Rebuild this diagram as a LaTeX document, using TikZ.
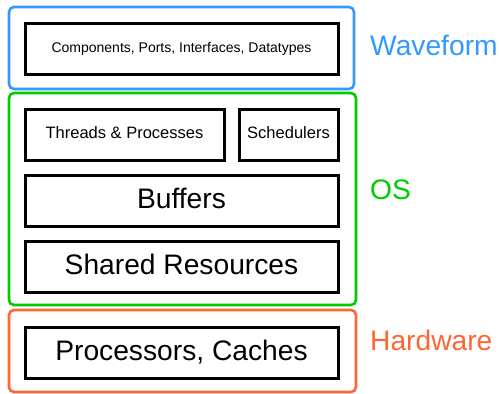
\documentclass[tikz,border=0pt]{standalone}
\usepackage{fontspec}
\setmainfont{Liberation Sans}
\definecolor{wfblue}{RGB}{51,153,255}
\definecolor{osgreen}{RGB}{0,204,0}
\definecolor{hworange}{RGB}{255,102,51}
\begin{document}
\begin{tikzpicture}[x=1pt,y=-1pt,
  layer/.style={draw, line width=2.6pt, rounded corners=5pt, inner sep=0pt},
  block/.style={draw=black, line width=3pt, inner sep=0pt, text=black},
  bigtext/.style={font=\fontsize{28.2}{30}\selectfont, text height=20pt, text depth=5pt},
  smalltext/.style={font=\fontsize{16.5}{19}\selectfont, text height=12pt, text depth=4.2pt},
  tinytext/.style={font=\fontsize{14}{16}\selectfont, text height=10pt, text depth=3pt},
  tag/.style={anchor=west, inner sep=0pt, font=\fontsize{28.2}{30}\selectfont}]
\useasboundingbox (0,0) rectangle (499,394);

% layer frames
\node[layer, draw=wfblue, minimum width=345pt, minimum height=82pt] (wf) at (181.5,48) {};
\node[layer, draw=osgreen, minimum width=347pt, minimum height=212pt] (os) at (182.5,199) {};
\node[layer, draw=hworange, minimum width=347pt, minimum height=82pt] (hw) at (182.5,351) {};

% blocks inside the layers
\node[block, tinytext, minimum width=313pt, minimum height=51pt] (comp) at (181.5,48.5) {Components, Ports, Interfaces, Datatypes};
\node[block, smalltext, minimum width=199pt, minimum height=51pt] (thr) at (124.5,134.5) {Threads \& Processes};
\node[block, smalltext, minimum width=99pt, minimum height=51pt] (sch) at (288.5,134.5) {Schedulers};
\node[block, bigtext, minimum width=313pt, minimum height=51pt] (buf) at (181.5,200.5) {Buffers};
\node[block, bigtext, minimum width=313pt, minimum height=51pt] (shr) at (181.5,266.5) {Shared Resources};
\node[block, bigtext, minimum width=313pt, minimum height=51pt] (proc) at (181.5,352.5) {Processors, Caches};

% layer names
\node[tag, text=wfblue] (wflabel) at (370,45) {Waveform};
\node[tag, text=osgreen] (oslabel) at (370,190) {OS};
\node[tag, text=hworange] (hwlabel) at (370,340) {Hardware};
\end{tikzpicture}
\end{document}
